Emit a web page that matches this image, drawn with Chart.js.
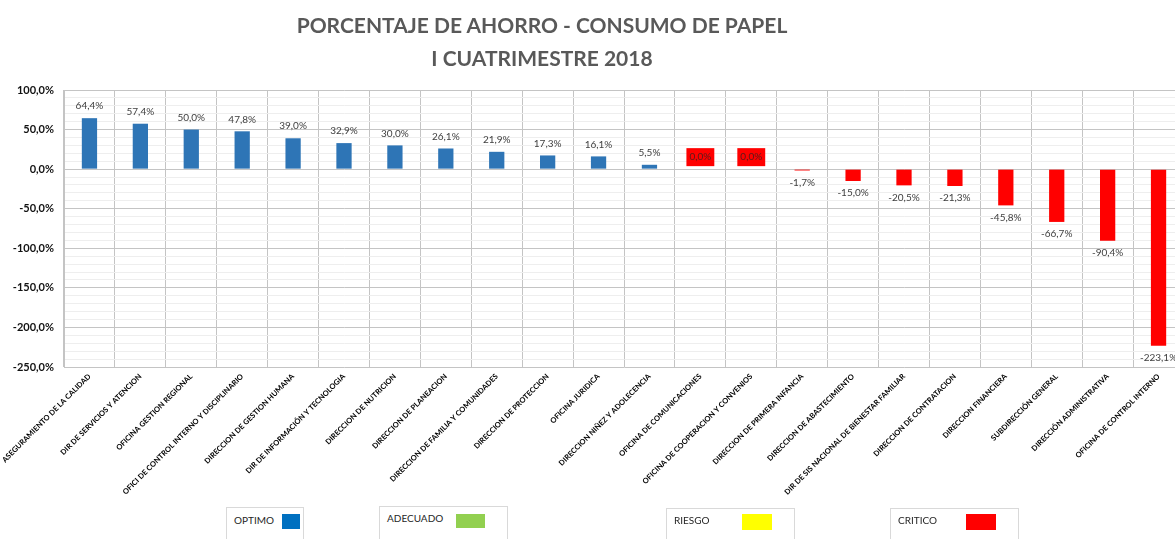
<!DOCTYPE html>
<html>
<head>
<meta charset="utf-8">
<script src="https://cdn.jsdelivr.net/npm/chart.js@4.4.1/dist/chart.umd.min.js"></script>
<style>
  html, body { margin: 0; padding: 0; background: #fff; overflow: hidden; width: 1175px; height: 539px; }
  #wrap { position: absolute; left: 0; top: 0; width: 1190px; height: 539px; }
  .titulo { position: absolute; left: 242px; width: 600px; text-align: center; font-family: Lato, sans-serif;
            font-weight: bold; font-size: 21px; color: #595959; line-height: 24px; }
  .caja { position: absolute; height: 40px; border: 1px solid #D9D9D9; background: #fff; box-sizing: border-box;
          font-family: Lato, sans-serif; font-size: 10px; color: #262626; }
  .caja span { position: absolute; left: 7px; top: 5px; }
  .caja i { position: absolute; display: block; }
</style>
</head>
<body>
<div id="wrap">
  <canvas id="ahorro-chart" width="1190" height="539"></canvas>
  <div class="titulo" style="top:13px">PORCENTAJE DE AHORRO - CONSUMO DE PAPEL</div>
  <div class="titulo" style="top:46px">I CUATRIMESTRE 2018</div>

  <!-- convenciones de colores -->
  <div class="caja" style="left:226px;top:507px;width:78px"><span style="top:6px">OPTIMO</span><i style="left:55px;top:6px;width:18px;height:15px;background:#0070C0"></i></div>
  <div class="caja" style="left:379px;top:506px;width:129px"><span>ADECUADO</span><i style="left:76px;top:7px;width:29px;height:14px;background:#92D050"></i></div>
  <div class="caja" style="left:666px;top:508px;width:129px"><span>RIESGO</span><i style="left:75px;top:5px;width:30px;height:16px;background:#FFFF00"></i></div>
  <div class="caja" style="left:890px;top:508px;width:129px"><span>CRITICO</span><i style="left:75px;top:5px;width:30px;height:16px;background:#FF0000"></i></div>
</div>
<script>
// dependencias y porcentaje de ahorro del cuatrimestre
const dependencias = [
  'ASEGURAMIENTO DE LA CALIDAD', 'DIR DE SERVICIOS Y ATENCION', 'OFICINA GESTION REGIONAL',
  'OFICI DE CONTROL INTERNO Y DISCIPLINARIO', 'DIRECCION DE GESTION HUMANA', 'DIR DE INFORMACIÓN Y TECNOLOGIA',
  'DIRECCION DE NUTRICION', 'DIRECCION DE PLANEACION', 'DIRECCION DE FAMILIA Y COMUNIDADES',
  'DIRECCION DE PROTECCION', 'OFICINA JURIDICA', 'DIRECCION NIÑEZ Y ADOLECENCIA',
  'OFICINA DE COMUNICACIONES', 'OFICINA DE COOPERACION Y CONVENIOS', 'DIRECCION DE PRIMERA INFANCIA',
  'DIRECCION DE ABASTECIMIENTO', 'DIR DE SIS NACIONAL DE BIENESTAR FAMILIAR', 'DIRECCION DE CONTRATACION',
  'DIRECCION FINANCIERA', 'SUBDIRECCIÓN GENERAL', 'DIRECCIÓN ADMINISTRATIVA', 'OFICINA DE CONTROL INTERNO'
];
const ahorro = [64.4, 57.4, 50.0, 47.8, 39.0, 32.9, 30.0, 26.1, 21.9, 17.3, 16.1, 5.5,
                0.0, 0.0, -1.7, -15.0, -20.5, -21.3, -45.8, -66.7, -90.4, -223.1];
const ejeMin = -250;
const ejeMax = 100;

const AZUL = '#2E75B6';
const ROJO = '#FF0000';

// positivo = optimo (azul), cero o negativo = critico (rojo)
const colores = ahorro.map(v => v > 0 ? AZUL : ROJO);

function pct(v){
    return v.toFixed(1).replace('.', ',') + '%';
}

// etiquetas de valor encima/debajo de cada barra
const etiquetas = {
    id: 'etiquetas',
    afterDatasetsDraw(chart){
        const ctx = chart.ctx;
        const meta = chart.getDatasetMeta(0);
        ctx.save();
        ctx.font = '10px Lato';
        ctx.textAlign = 'center';
        ctx.textBaseline = 'middle';
        meta.data.forEach((bar, i) => {
            const v = ahorro[i];
            const txt = pct(v);
            if(v === 0){
                const w = ctx.measureText(txt).width + 6;
                ctx.fillStyle = ROJO;
                ctx.fillRect(bar.x - w / 2, bar.y - 21, w, 18);
                ctx.fillStyle = '#5a1a1a';
                ctx.fillText(txt, bar.x, bar.y - 12);
            } else {
                ctx.fillStyle = '#404040';
                ctx.fillText(txt, bar.x, v > 0 ? bar.y - 12 : bar.y + 12);
            }
        });
        ctx.restore();
    }
};

const ctxAhorro = document.getElementById('ahorro-chart').getContext('2d');
const ahorroChart = new Chart(ctxAhorro, {
    type: 'bar',
    data: {
        labels: dependencias,
        datasets: [{
            data: ahorro,
            backgroundColor: colores,
            borderWidth: 0,
            barPercentage: 0.3,
            categoryPercentage: 1
        }]
    },
    options: {
        responsive: false,
        animation: false,
        layout: { padding: { top: 90, right: 6, left: 0, bottom: 0 } },
        plugins: {
            legend: { display: false },
            tooltip: { enabled: false }
        },
        scales: {
            x: {
                grid: { color: '#C4C4C4', drawTicks: false, offset: true },
                border: { display: false },
                ticks: {
                    autoSkip: false,
                    minRotation: 45,
                    maxRotation: 45,
                    padding: 5,
                    color: '#000',
                    font: { family: 'Lato', size: 7.5, weight: 'bold' }
                },
                afterFit(scale){
                    scale.height = 172;
                    // las etiquetas inclinadas pueden invadir la zona del eje y
                    scale.paddingLeft = 0;
                    scale.paddingRight = 0;
                }
            },
            y: {
                min: ejeMin,
                max: ejeMax,
                grid: {
                    drawTicks: false,
                    color: c => Math.round(c.tick.value) % 50 === 0 ? '#C4C4C4' : '#EEEEEE'
                },
                border: { display: true, color: '#C4C4C4' },
                ticks: {
                    stepSize: 10,
                    autoSkip: false,
                    padding: 10,
                    color: '#111',
                    font: { family: 'Lato', size: 11, weight: 'bold' },
                    callback: v => Math.round(v) % 50 === 0 ? pct(v) : ''
                },
                afterFit(scale){ scale.width = 64; }
            }
        }
    },
    plugins: [etiquetas]
});
</script>
</body>
</html>
